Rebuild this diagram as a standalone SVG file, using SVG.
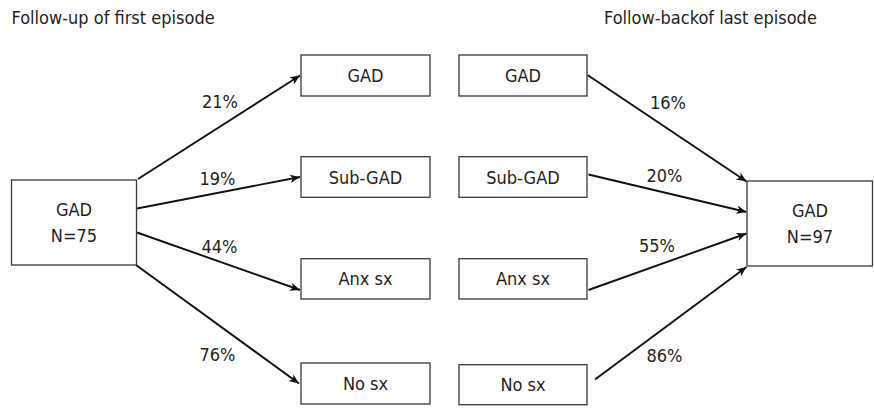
<svg xmlns="http://www.w3.org/2000/svg" width="874" height="408" viewBox="0 0 874 408">
<style>
text{font-family:"DejaVu Sans Condensed","DejaVu Sans","Liberation Sans",sans-serif;font-stretch:condensed;font-size:18px;fill:#231f20}
.c{text-anchor:middle}
rect{fill:#fff;stroke:#3a3a3a;stroke-width:1.3}
.e{stroke:#111;stroke-width:1.9;fill:none;marker-end:url(#ah)}
</style>
<defs>
<marker id="ah" markerUnits="userSpaceOnUse" markerWidth="12" markerHeight="10" refX="10" refY="5" orient="auto" viewBox="0 0 12 10">
<path d="M0,0.8 L10,5 L0,9.2 L2.8,5 z" fill="#111"/>
</marker>
</defs>
<text x="11.5" y="24">Follow-up of first episode</text>
<text x="604" y="24">Follow-backof last episode</text>
<g id="connectors">
<line class="e" x1="138" y1="179" x2="300" y2="75.5"/>
<line class="e" x1="137" y1="208.5" x2="300" y2="177"/>
<line class="e" x1="137" y1="232.5" x2="300" y2="290"/>
<line class="e" x1="136" y1="265" x2="299" y2="383.5"/>
<line class="e" x1="587.5" y1="75" x2="746.5" y2="181.5"/>
<line class="e" x1="588.5" y1="174.5" x2="746.5" y2="212"/>
<line class="e" x1="588.5" y1="290" x2="746.5" y2="233.5"/>
<line class="e" x1="595" y1="379.5" x2="746.5" y2="267"/>
<text x="202" y="108">21%</text>
<text x="199.5" y="185">19%</text>
<text x="201.5" y="253">44%</text>
<text x="199.5" y="360.5">76%</text>
<text x="650" y="109">16%</text>
<text x="646.5" y="181.5">20%</text>
<text x="639" y="251.5">55%</text>
<text x="646.5" y="361.5">86%</text>
</g>
<g id="src">
<rect x="11.5" y="180" width="125" height="85"/>
<text class="c" x="74" y="216">GAD</text>
<text class="c" x="74" y="242">N=75</text>
</g>
<g id="f_gad"><rect x="301" y="55" width="129" height="41"/><text class="c" x="365.5" y="82.3">GAD</text></g>
<g id="f_sub"><rect x="301" y="156.7" width="129" height="40.6"/><text class="c" x="365.5" y="184">Sub-GAD</text></g>
<g id="f_anx"><rect x="301" y="258.7" width="129" height="40.3"/><text class="c" x="365.5" y="285">Anx sx</text></g>
<g id="f_no"><rect x="301" y="363" width="129" height="41"/><text class="c" x="365.5" y="390">No sx</text></g>
<g id="b_gad"><rect x="459" y="55" width="128" height="41"/><text class="c" x="523" y="82.3">GAD</text></g>
<g id="b_sub"><rect x="459" y="156.7" width="128" height="40.6"/><text class="c" x="523" y="184">Sub-GAD</text></g>
<g id="b_anx"><rect x="459" y="258.7" width="128" height="40.3"/><text class="c" x="523" y="285">Anx sx</text></g>
<g id="b_no"><rect x="459" y="364.7" width="128" height="40"/><text class="c" x="523" y="391">No sx</text></g>
<g id="dst">
<rect x="747" y="181" width="125.5" height="85"/>
<text class="c" x="810" y="216.5">GAD</text>
<text class="c" x="810" y="243">N=97</text>
</g>
</svg>
